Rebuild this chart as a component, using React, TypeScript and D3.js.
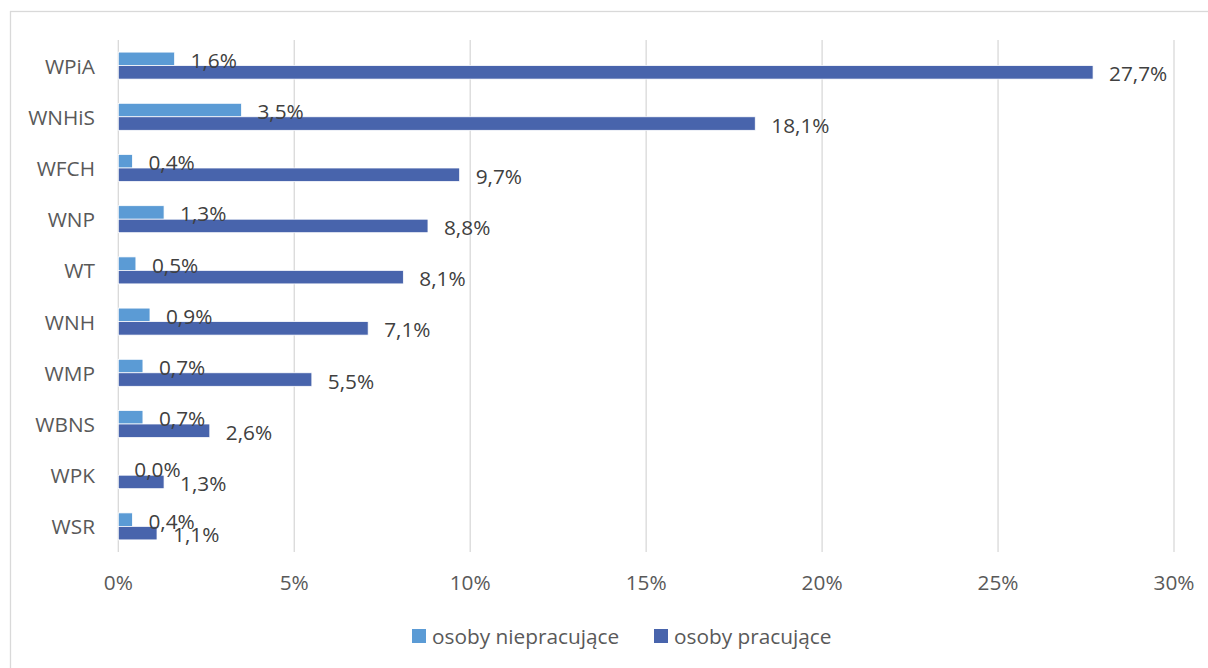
import React from "react";
import * as d3 from "d3";

const categories = ["WPiA", "WNHiS", "WFCH", "WNP", "WT", "WNH", "WMP", "WBNS", "WPK", "WSR"];
const nonWorking = [1.6, 3.5, 0.4, 1.3, 0.5, 0.9, 0.7, 0.7, 0.0, 0.4];
const working = [27.7, 18.1, 9.7, 8.8, 8.1, 7.1, 5.5, 2.6, 1.3, 1.1];
const xTicks = [0, 5, 10, 15, 20, 25, 30];
const seriesNames = ["osoby niepracujące", "osoby pracujące"];
const colors = ["#5B9BD5", "#4864AC"];

const W = 1208;
const H = 668;
const FONT = "'Open Sans', sans-serif";
const FS = 20.8;

export default function App() {
  const x = d3.scaleLinear().domain([0, 30]).range([118.3, 1174]);
  const y = d3.scaleBand().domain(categories).range([40, 552]).paddingInner(0.473).paddingOuter(0.2365);
  const bw = y.bandwidth() / 2;
  const fmt = (v: number) => v.toFixed(1).replace(".", ",") + "%";
  const series = [nonWorking, working];

  return (
    <div style={{ position: "absolute", left: 0, top: 0 }}>
      <svg width={W} height={H} style={{ display: "block", background: "#fff" }} fontFamily={FONT}>
        <rect x={10.5} y={11.5} width={W + 10} height={H + 10} fill="#fff" stroke="#d9d9d9" strokeWidth={1.3} />
        {xTicks.map((t) => (
          <g key={t}>
            <line x1={x(t)} x2={x(t)} y1={40} y2={552} stroke="#d9d9d9" strokeWidth={1.3} />
            <text x={x(t)} y={582} textAnchor="middle" dominantBaseline="central" fontSize={FS} fill="#595959">
              {t + "%"}
            </text>
          </g>
        ))}
        {categories.map((c) => (
          <text key={c} x={95} y={(y(c) as number) + bw} textAnchor="end" dominantBaseline="central" fontSize={FS} fill="#595959">
            {c}
          </text>
        ))}
        {series.map((s, k) =>
          categories.map((c, i) => (
            <rect
              key={`b${k}-${c}`}
              x={x(0)}
              y={(y(c) as number) + k * bw}
              width={x(s[i]) - x(0)}
              height={bw}
              fill={colors[k]}
              stroke="#fff"
              strokeWidth={0.75}
            />
          ))
        )}
        {series.map((s, k) =>
          categories.map((c, i) => (
            <text
              key={`l${k}-${c}`}
              x={x(s[i]) + 16}
              y={(y(c) as number) + k * bw + bw / 2 + 1}
              dominantBaseline="central"
              fontSize={FS}
              fill="#404040"
            >
              {fmt(s[i])}
            </text>
          ))
        )}
        {seriesNames.map((n, k) => {
          const lx = k === 0 ? 412 : 654;
          return (
            <g key={n}>
              <rect x={lx} y={629} width={14} height={14} fill={colors[k]} />
              <text x={lx + 20} y={636} dominantBaseline="central" fontSize={FS} fill="#595959">
                {n}
              </text>
            </g>
          );
        })}
      </svg>
    </div>
  );
}
